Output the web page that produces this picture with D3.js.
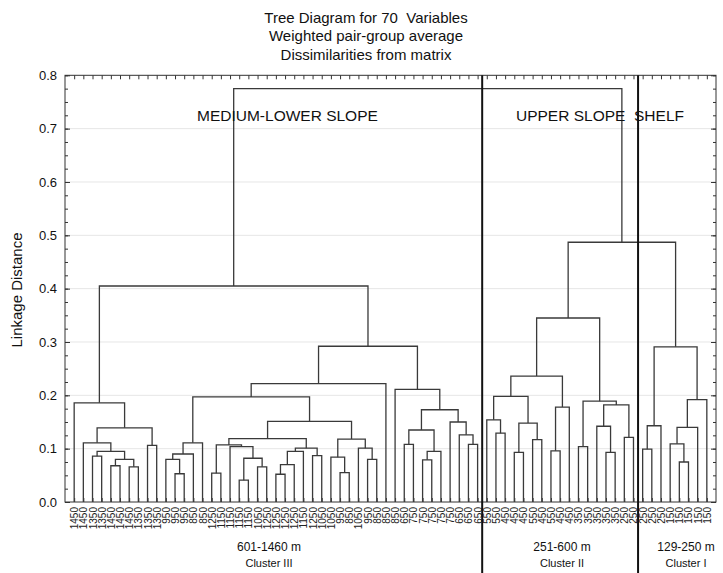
<!DOCTYPE html>
<html>
<head>
<meta charset="utf-8">
<script src="https://cdn.jsdelivr.net/npm/d3@7"></script>
<style>
  body { margin: 0; background: #fff; }
  svg { display: block; font-family: "Liberation Sans", Arial, sans-serif; }
  .pre { white-space: pre; }
</style>
</head>
<body>
<script>
const titleLines = ["Tree Diagram for 70  Variables", "Weighted pair-group average", "Dissimilarities from matrix"];

// leaf labels (depth, m), in dendrogram order
const leafLabels = [
  "1450", "1450", "1350", "1350", "1450", "1450", "1450", "1350", "1350", "1350",
  "950", "950", "950", "850", "850",
  "1250", "1150", "1150", "1150", "1150", "1050", "1250", "1250", "1250", "1250", "1150", "1250", "1050", "1050",
  "950", "850", "1050", "950", "850", "850",
  "850", "650", "750", "750", "750", "750", "750", "650", "650", "650",
  "550", "550", "450", "450", "450", "550", "450", "550", "450", "450",
  "350", "350", "350", "350", "350", "250", "250",
  "250", "250", "250", "150", "150", "150", "150", "150"
];

// merges: [left, right, linkage distance]; ids >= 70 point to earlier rows (70 + row)
const merges = [
  [2, 3, 0.086], [4, 5, 0.068], [6, 7, 0.066], [71, 72, 0.080], [70, 73, 0.095],
  [1, 74, 0.111], [8, 9, 0.106], [75, 76, 0.139], [0, 77, 0.186],
  [11, 12, 0.053], [10, 79, 0.080], [80, 13, 0.090], [81, 14, 0.111],
  [15, 16, 0.054], [18, 19, 0.041], [20, 21, 0.066], [84, 85, 0.082], [17, 86, 0.104], [83, 87, 0.107],
  [22, 23, 0.052], [89, 24, 0.070], [90, 25, 0.095], [26, 27, 0.087], [91, 92, 0.101], [88, 93, 0.119],
  [29, 30, 0.055], [28, 95, 0.084], [32, 33, 0.080], [31, 97, 0.101], [96, 98, 0.118], [94, 99, 0.151],
  [82, 100, 0.197], [101, 34, 0.222],
  [36, 37, 0.108], [38, 39, 0.079], [104, 40, 0.095], [103, 105, 0.135], [43, 44, 0.108],
  [42, 107, 0.126], [41, 108, 0.150], [106, 109, 0.173], [35, 110, 0.211], [102, 111, 0.292],
  [78, 112, 0.405],
  [46, 47, 0.129], [45, 114, 0.154], [48, 49, 0.093], [50, 51, 0.117], [116, 117, 0.148],
  [115, 118, 0.198], [52, 53, 0.096], [120, 54, 0.178], [119, 121, 0.236], [55, 56, 0.104],
  [58, 59, 0.093], [57, 124, 0.142], [60, 61, 0.121], [125, 126, 0.182], [123, 127, 0.189],
  [122, 128, 0.345],
  [62, 63, 0.099], [130, 64, 0.143], [66, 67, 0.075], [65, 132, 0.109], [133, 68, 0.140],
  [134, 69, 0.192], [131, 135, 0.291],
  [129, 136, 0.487], [113, 137, 0.775]
];

const yTicks = [0, 0.1, 0.2, 0.3, 0.4, 0.5, 0.6, 0.7, 0.8];
const yMinorStep = 0.025;
const separators = [45.5, 62.5];   // between clusters, in leaf slots
const zoneNames = ["MEDIUM-LOWER SLOPE", "UPPER SLOPE  SHELF"];
const depthRanges = ["601-1460 m", "251-600 m", "129-250 m"];
const clusterNames = ["Cluster III", "Cluster II", "Cluster I"];

const W = 723, H = 573;
const plot = {left: 65, right: 716, top: 75.3, bottom: 502};

const svg = d3.select("body").append("svg")
    .attr("width", W).attr("height", H);

const n = leafLabels.length;
const x = d3.scaleLinear([0, n + 1], [plot.left, plot.right]);
const y = d3.scaleLinear([0, 0.8], [plot.bottom, plot.top]);

// node positions: leaves then merges
const pos = leafLabels.map((d, i) => ({x: i + 1, h: 0}));
merges.forEach(([a, b, h]) => pos.push({x: (pos[a].x + pos[b].x) / 2, h: h}));

// grid
svg.append("g")
    .attr("stroke", "#e6e6e6")
    .selectAll("line")
    .data(yTicks.slice(1, -1))
    .join("line")
      .attr("x1", plot.left).attr("x2", plot.right)
      .attr("y1", d => y(d)).attr("y2", d => y(d));

// axes
const minor = d3.range(0, 0.8 + 1e-9, yMinorStep);
function noDomain(g) { g.select(".domain").remove(); }

svg.append("g")
    .attr("transform", `translate(${plot.left},0)`)
    .call(d3.axisLeft(y).tickValues(minor).tickSize(-3).tickFormat(""))
    .call(noDomain);
svg.append("g")
    .attr("transform", `translate(${plot.left},0)`)
    .call(d3.axisLeft(y).tickValues(yTicks).tickSize(-5).tickPadding(8).tickFormat(d3.format(".1f")))
    .call(noDomain)
    .call(g => g.selectAll("text").attr("font-size", 13).attr("fill", "#111").attr("font-family", null));
svg.append("g")
    .attr("transform", `translate(${plot.right},0)`)
    .call(d3.axisRight(y).tickValues(minor).tickSize(-3).tickFormat(""))
    .call(noDomain);
svg.append("g")
    .attr("transform", `translate(${plot.right},0)`)
    .call(d3.axisRight(y).tickValues(yTicks).tickSize(-5).tickFormat(""))
    .call(noDomain);

const slots = d3.range(1, n + 1);
svg.append("g")
    .attr("transform", `translate(0,${plot.top})`)
    .call(d3.axisTop(x).tickValues(slots).tickSize(-4).tickFormat(""))
    .call(noDomain);
svg.append("g")
    .attr("transform", `translate(0,${plot.bottom})`)
    .call(d3.axisBottom(x).tickValues(slots).tickSize(-4).tickFormat(i => leafLabels[i - 1]))
    .call(noDomain)
    .call(g => g.selectAll("text")
        .attr("font-family", null)
        .attr("font-size", 10)
        .attr("fill", "#222")
        .attr("transform", "rotate(-90)")
        .attr("text-anchor", "end")
        .attr("x", -5).attr("y", 0).attr("dy", "0.35em"));

svg.selectAll(".tick line").attr("stroke", "#333");

// frame
svg.append("rect")
    .attr("x", plot.left).attr("y", plot.top)
    .attr("width", plot.right - plot.left).attr("height", plot.bottom - plot.top)
    .attr("fill", "none").attr("stroke", "#333");

// dendrogram
svg.append("g")
    .attr("fill", "none")
    .attr("stroke", "#3a3a3a")
    .attr("stroke-width", 1.3)
    .selectAll("path")
    .data(merges)
    .join("path")
      .attr("d", ([a, b, h]) =>
        `M${x(pos[a].x)},${y(pos[a].h)}V${y(h)}H${x(pos[b].x)}V${y(pos[b].h)}`);

// cluster separators
svg.append("g")
    .attr("stroke", "#111")
    .attr("stroke-width", 2)
    .selectAll("line")
    .data(separators)
    .join("line")
      .attr("x1", d => x(d)).attr("x2", d => x(d))
      .attr("y1", plot.top).attr("y2", H);

// titles
svg.append("g")
    .attr("text-anchor", "middle")
    .attr("font-size", 15)
    .attr("fill", "#111")
    .selectAll("text")
    .data(titleLines)
    .join("text")
      .attr("class", "pre")
      .attr("x", 366)
      .attr("y", (d, i) => 22.5 + i * 18.5)
      .text(d => d);

svg.append("text")
    .attr("transform", "translate(22,290) rotate(-90)")
    .attr("text-anchor", "middle")
    .attr("font-size", 15)
    .attr("fill", "#111")
    .text("Linkage Distance");

// zone names
const zoneX = [197, 516];
svg.append("g")
    .attr("font-size", 15.5)
    .attr("fill", "#111")
    .selectAll("text")
    .data(zoneNames)
    .join("text")
      .attr("class", "pre")
      .attr("x", (d, i) => zoneX[i])
      .attr("y", 120.5)
      .text(d => d);

// bottom cluster labels
const clusterX = [269, 562, 686];
const bottom = svg.append("g")
    .attr("text-anchor", "middle")
    .attr("font-size", 12)
    .attr("fill", "#111");
bottom.selectAll("text.range")
    .data(depthRanges)
    .join("text")
      .attr("class", "range")
      .attr("x", (d, i) => clusterX[i])
      .attr("y", 551)
      .text(d => d);
bottom.selectAll("text.cl")
    .data(clusterNames)
    .join("text")
      .attr("class", "cl")
      .attr("x", (d, i) => clusterX[i])
      .attr("y", 567)
      .attr("font-size", 11)
      .text(d => d);
</script>
</body>
</html>
